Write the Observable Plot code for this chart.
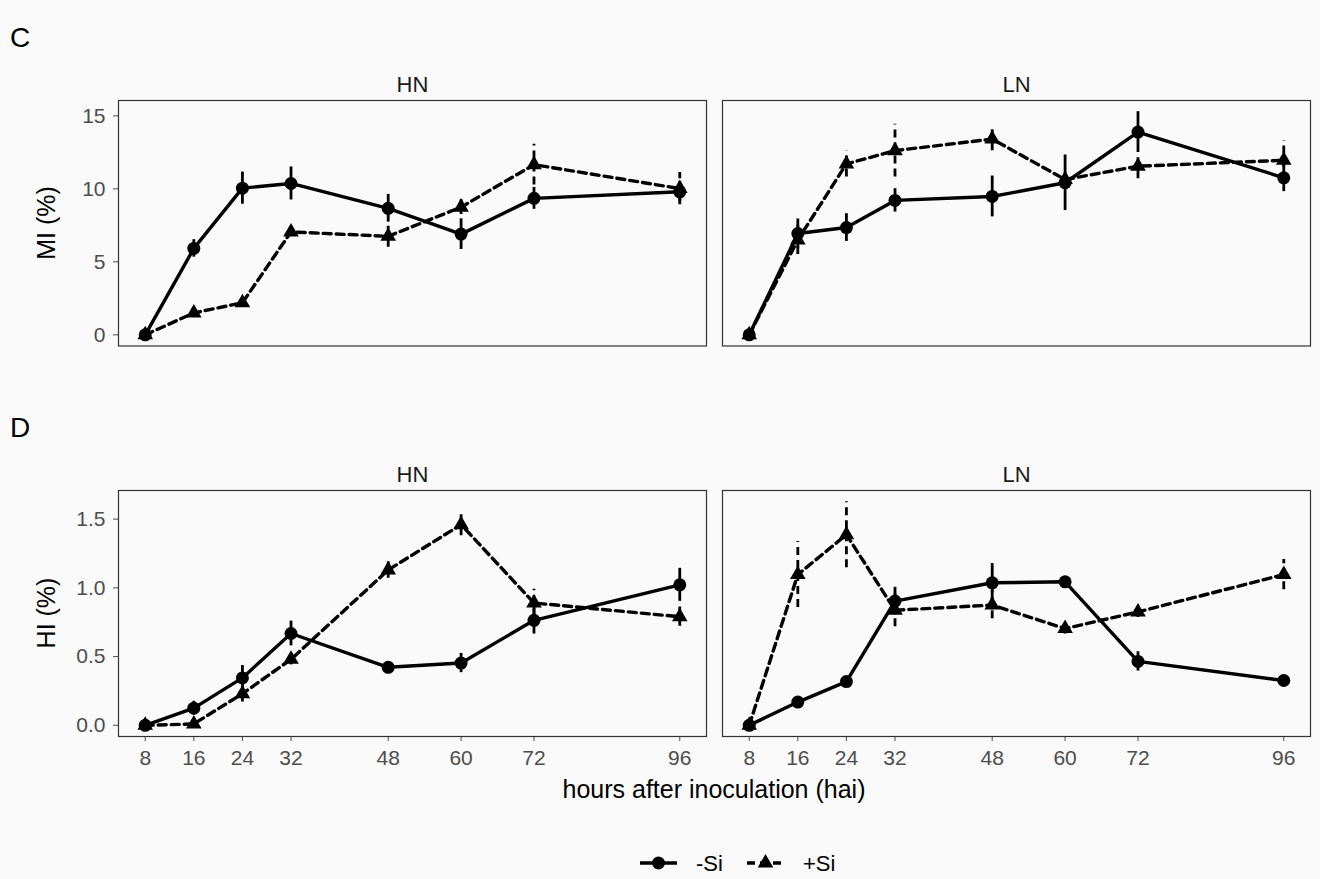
<!DOCTYPE html>
<html>
<head>
<meta charset="utf-8">
<script src="https://cdn.jsdelivr.net/npm/d3@7"></script>
<script src="https://cdn.jsdelivr.net/npm/@observablehq/plot@0.6"></script>
<style>
  html, body { margin: 0; padding: 0; background: #FAFAFA; }
  #wrap { position: relative; width: 1320px; height: 879px; background: #FAFAFA; font-family: "Liberation Sans", Arial, Helvetica, sans-serif; overflow: hidden; }
  .abs { position: absolute; line-height: 1; white-space: nowrap; }
  .tag { font-size: 28px; color: #000; }
  .ytitle { font-size: 25px; color: #000; transform: translate(-50%, -50%) rotate(-90deg); }
  .xtitle { font-size: 25px; color: #000; transform: translateX(-50%); }
  .row { position: absolute; left: 0; }
</style>
</head>
<body>
<div id="wrap">
  <div class="abs tag" style="left:10px; top:24px;">C</div>
  <div class="abs tag" style="left:10px; top:414px;">D</div>
  <div class="abs ytitle" style="left:46px; top:223px;">MI (%)</div>
  <div class="abs ytitle" style="left:46px; top:613px;">HI (%)</div>
  <div class="abs xtitle" style="left:714px; top:777px;">hours after inoculation (hai)</div>
  <div id="rowC" class="row" style="top:50px;"></div>
  <div id="rowD" class="row" style="top:440px;"></div>
  <div id="legend" class="row" style="top:843px;"></div>
</div>
<script>
// ---- data ----
const hai = [8, 16, 24, 32, 48, 60, 72, 96];
const nitrogen = ["HN", "LN"];
const treatments = ["-Si", "+Si"];

// MI (%) means and error half-widths
const MI_HN_noSi    = [0, 5.92, 10.05, 10.37, 8.67, 6.90, 9.35, 9.80];
const MI_HN_noSi_se = [0, 0.60, 1.10, 1.13, 0.95, 1.05, 0.75, 0.70];
const MI_HN_Si      = [0, 1.50, 2.20, 7.05, 6.75, 8.75, 11.66, 10.02];
const MI_HN_Si_se   = [0, 0.20, 0.20, 0.30, 0.75, 0.50, 1.40, 1.10];
const MI_LN_noSi    = [0, 6.94, 7.35, 9.21, 9.48, 10.42, 13.89, 10.76];
const MI_LN_noSi_se = [0, 1.00, 0.95, 0.80, 1.40, 1.90, 1.40, 0.95];
const MI_LN_Si      = [0, 6.50, 11.71, 12.62, 13.41, 10.64, 11.55, 11.96];
const MI_LN_Si_se   = [0, 1.00, 0.90, 1.80, 0.80, 0.40, 0.85, 1.35];

// HI (%) means and error half-widths
const HI_HN_noSi    = [0, 0.125, 0.345, 0.668, 0.422, 0.453, 0.764, 1.022];
const HI_HN_noSi_se = [0, 0.05, 0.09, 0.09, 0.04, 0.07, 0.10, 0.12];
const HI_HN_Si      = [0, 0.01, 0.23, 0.48, 1.13, 1.46, 0.89, 0.79];
const HI_HN_Si_se   = [0, 0.01, 0.06, 0.04, 0.06, 0.08, 0.10, 0.07];
const HI_LN_noSi    = [0, 0.169, 0.318, 0.904, 1.037, 1.044, 0.465, 0.326];
const HI_LN_noSi_se = [0, 0.02, 0.02, 0.10, 0.14, 0.01, 0.07, 0.02];
const HI_LN_Si      = [0, 1.097, 1.387, 0.837, 0.875, 0.704, 0.825, 1.097];
const HI_LN_Si_se   = [0, 0.24, 0.24, 0.12, 0.10, 0.04, 0.04, 0.11];

const yTicksMI = [0, 5, 10, 15];
const yTicksHI = [0, 0.5, 1.0, 1.5];

// ---- build tables ----
function rows(n, trt, vals, ses) {
  return hai.map((h, i) => ({hai: h, n, trt, v: vals[i], lo: vals[i] - ses[i], hi: vals[i] + ses[i]}));
}
const MI = [
  ...rows("HN", "-Si", MI_HN_noSi, MI_HN_noSi_se), ...rows("HN", "+Si", MI_HN_Si, MI_HN_Si_se),
  ...rows("LN", "-Si", MI_LN_noSi, MI_LN_noSi_se), ...rows("LN", "+Si", MI_LN_Si, MI_LN_Si_se)
];
const HI = [
  ...rows("HN", "-Si", HI_HN_noSi, HI_HN_noSi_se), ...rows("HN", "+Si", HI_HN_Si, HI_HN_Si_se),
  ...rows("LN", "-Si", HI_LN_noSi, HI_LN_noSi_se), ...rows("LN", "+Si", HI_LN_Si, HI_LN_Si_se)
];

function expand(lo, hi) { const r = hi - lo; return [lo - 0.05 * r, hi + 0.05 * r]; }
const xDomain = expand(d3.min(hai), d3.max(hai));

const DASH = "8,5";
const LW = 3.4;
const FONT = "'Liberation Sans', Arial, Helvetica, sans-serif";

function panelRow(data, yTicks, fmt, showX, marginBottom, height) {
  const yDomain = expand(Math.min(0, d3.min(data, d => d.lo)), d3.max(data, d => d.hi));
  const noSi = data.filter(d => d.trt === "-Si");
  const si = data.filter(d => d.trt === "+Si");
  return Plot.plot({
    width: 1320,
    height,
    marginLeft: 118,
    marginRight: 10,
    marginTop: 50,
    marginBottom,
    style: {background: "transparent", fontFamily: FONT, fontSize: "21px", color: "#4D4D4D", overflow: "visible"},
    fx: {domain: nitrogen, axis: null, paddingInner: 0.0265, paddingOuter: 0, label: null},
    x: showX
      ? {domain: xDomain, ticks: hai, tickSize: 5, tickPadding: 9, label: null, tickFormat: d3.format("d")}
      : {domain: xDomain, axis: null},
    y: {domain: yDomain, ticks: yTicks, tickFormat: fmt, tickSize: 5, tickPadding: 8, label: null},
    marks: [
      Plot.frame({stroke: "#333333", strokeWidth: 1.2}),
      Plot.line(noSi, {fx: "n", x: "hai", y: "v", stroke: "black", strokeWidth: LW}),
      Plot.line(si, {fx: "n", x: "hai", y: "v", stroke: "black", strokeWidth: LW, strokeDasharray: DASH}),
      Plot.ruleX(noSi.filter(d => d.hi > d.lo), {fx: "n", x: "hai", y1: "lo", y2: "hi", stroke: "black", strokeWidth: 2.8}),
      Plot.ruleX(si.filter(d => d.hi > d.lo), {fx: "n", x: "hai", y1: "lo", y2: "hi", stroke: "black", strokeWidth: 2.8, strokeDasharray: DASH}),
      Plot.dot(noSi, {fx: "n", x: "hai", y: "v", symbol: "circle", r: 6.5, fill: "black", stroke: "none"}),
      Plot.dot(si, {fx: "n", x: "hai", y: "v", symbol: "triangle", r: 5.8, fill: "black", stroke: "none"}),
      Plot.text(nitrogen, {fx: d => d, text: d => d, frameAnchor: "top", dy: -24, fontSize: 22, fill: "#1A1A1A"})
    ]
  });
}

document.getElementById("rowC").append(panelRow(MI, yTicksMI, d3.format("d"), false, 4.5, 300));
document.getElementById("rowD").append(panelRow(HI, yTicksHI, d3.format(".1f"), true, 54, 350));

// ---- legend (outside the plot) ----
const legendSvg = d3.create("svg").attr("width", 1320).attr("height", 36)
  .style("font-family", FONT).style("overflow", "visible");
const items = [
  {label: treatments[0], x: 640, dash: null, sym: d3.symbolCircle, size: Math.PI * 6.5 * 6.5},
  {label: treatments[1], x: 747, dash: DASH, sym: d3.symbolTriangle, size: Math.PI * 5.8 * 5.8}
];
for (const it of items) {
  const g = legendSvg.append("g").attr("transform", `translate(${it.x},20)`);
  g.append("line").attr("x1", 0).attr("x2", 37).attr("y1", 0).attr("y2", 0)
    .attr("stroke", "black").attr("stroke-width", LW).attr("stroke-dasharray", it.dash);
  g.append("path").attr("d", d3.symbol(it.sym, it.size)()).attr("transform", "translate(18.5,0)").attr("fill", "black");
  g.append("text").attr("x", 56).attr("y", 8).attr("font-size", 22).attr("fill", "#000").text(it.label);
}
document.getElementById("legend").append(legendSvg.node());
</script>
</body>
</html>
